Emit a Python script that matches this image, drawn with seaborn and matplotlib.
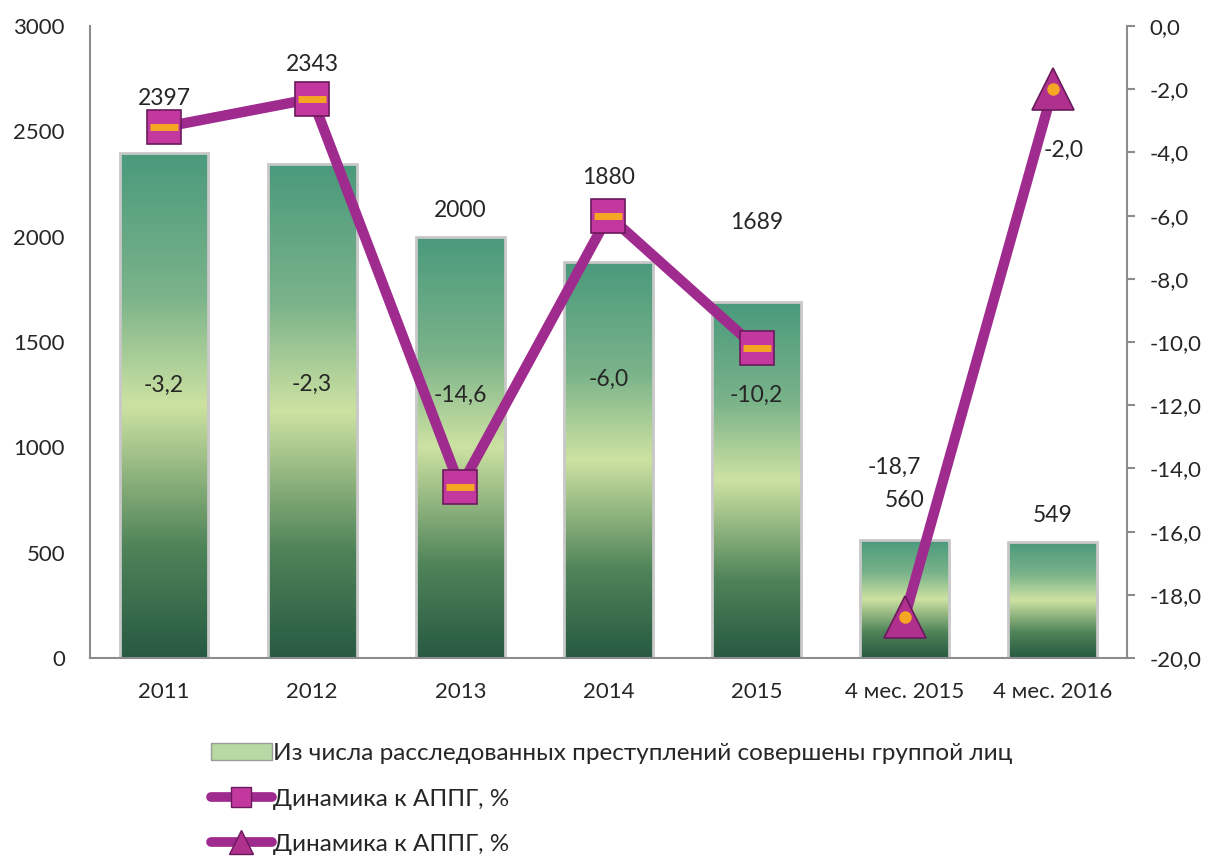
import numpy as np
import pandas as pd
import matplotlib
matplotlib.use("Agg")
import matplotlib.pyplot as plt
import seaborn as sns
from matplotlib.colors import LinearSegmentedColormap
from matplotlib.lines import Line2D
from matplotlib.patches import Patch
from matplotlib.ticker import FuncFormatter

# данные
periods = ["2011", "2012", "2013", "2014", "2015", "4 мес. 2015", "4 мес. 2016"]
group_crimes = [2397, 2343, 2000, 1880, 1689, 560, 549]
dyn_years = [-3.2, -2.3, -14.6, -6.0, -10.2, np.nan, np.nan]
dyn_months = [np.nan, np.nan, np.nan, np.nan, np.nan, -18.7, -2.0]

bar_name = "Из числа расследованных преступлений совершены группой лиц"
line_name = "Динамика к АППГ, %"

# смещения подписей (в пикселях)
bar_lbl_dy = [55, 100, 26, 84, 80, 40, 27]
line_lbl_off = [(0, -258), (0, -286), (0, 92), (0, -164), (0, -47), (-10, 150), (11, -61)]

sns.set_style("white")
plt.rcParams['font.family'] = ['Lato', 'DejaVu Sans']
plt.rcParams['font.size'] = 16

df = pd.DataFrame({"period": periods, "count": group_crimes,
                   "dyn_y": dyn_years, "dyn_m": dyn_months})
df["pos"] = np.arange(len(df))

fig = plt.figure(figsize=(12.11, 8.58), dpi=100)
ax = fig.add_axes([0.0743, 0.2331, 0.8563, 0.7366])

sns.barplot(data=df, x="period", y="count", ax=ax, width=0.6,
            color="#7ab38a", saturation=1)

# градиентная заливка столбцов
grad = LinearSegmentedColormap.from_list(
    "g", [(0, "#275a42"), (0.22, "#4f8459"), (0.5, "#cde2a2"),
          (0.72, "#7ab38a"), (1, "#4a9a7c")])
img = np.linspace(0, 1, 256).reshape(-1, 1)
for p in ax.patches:
    x0, w, h = p.get_x(), p.get_width(), p.get_height()
    im = ax.imshow(img, cmap=grad, origin="lower", aspect="auto",
                   extent=[x0, x0 + w, 0, h], zorder=1)
    im.set_clip_path(p)
    p.set_facecolor("none")
    p.set_edgecolor("#c8c8c8")
    p.set_linewidth(2)
    p.set_zorder(2)

ax.set_xlim(-0.5, len(periods) - 0.5)
ax.set_ylim(0, 3000)
ax.set_yticks(range(0, 3001, 500))
ax.set_xlabel("")
ax.set_ylabel("")
ax.tick_params(axis="y", length=0, pad=18, labelsize=16)
ax.tick_params(axis="x", length=0, pad=17, labelsize=16)
for s in ["top", "right"]:
    ax.spines[s].set_visible(False)
for s in ["left", "bottom"]:
    ax.spines[s].set_color("#8c8c8c")
    ax.spines[s].set_linewidth(1.5)

for i, v in enumerate(group_crimes):
    ax.annotate(str(v), (i, v), xytext=(0, bar_lbl_dy[i]),
                textcoords="offset pixels", ha="center", va="center",
                fontsize=16.5)

# правая ось
ax2 = ax.twinx()
purple = "#a02b8e"
sns.lineplot(data=df, x="pos", y="dyn_y", ax=ax2, color=purple, lw=7.5,
             marker="s", markersize=24, markerfacecolor="#c2389f",
             markeredgecolor="#6a1a5c", markeredgewidth=1.2)
sns.lineplot(data=df, x="pos", y="dyn_m", ax=ax2, color=purple, lw=7.5,
             marker="^", markersize=30, markerfacecolor="#b0308e",
             markeredgecolor="#6a1a5c", markeredgewidth=1.2)
# оранжевая полоса на маркерах
ax2.plot(df["pos"], df["dyn_y"], ls="none", marker="_", markersize=20,
         markeredgewidth=5, color="#f5a623")
ax2.plot(df["pos"], df["dyn_m"], ls="none", marker="o", markersize=9,
         markeredgewidth=0, color="#f5a623")

ax2.set_ylim(-20, 0)
ax2.set_yticks(np.arange(-20, 0.1, 2))
ax2.yaxis.set_major_formatter(
    FuncFormatter(lambda v, _: f"{abs(v):.1f}".replace(".", ",") if abs(v) < 1e-9
                  else f"{v:.1f}".replace(".", ",")))
ax2.set_ylabel("")
ax2.set_xlabel("")
ax2.tick_params(axis="y", direction="out", length=6, width=1.5,
                color="#8c8c8c", pad=10, labelsize=16)
for s in ["top", "left", "bottom"]:
    ax2.spines[s].set_visible(False)
ax2.spines["right"].set_color("#8c8c8c")
ax2.spines["right"].set_linewidth(1.5)
ax2.set_xlim(-0.5, len(periods) - 0.5)

for i in range(len(periods)):
    v = dyn_years[i] if not np.isnan(dyn_years[i]) else dyn_months[i]
    dx, dy = line_lbl_off[i]
    ax2.annotate(f"{v:.1f}".replace(".", ","), (i, v), xytext=(dx, dy),
                 textcoords="offset pixels", ha="center", va="center",
                 fontsize=16.5)

handles = [
    Patch(facecolor="#b8d9a4", edgecolor="#9a9a9a"),
    Line2D([], [], color=purple, lw=7, marker="s", markersize=15,
           markerfacecolor="#c2389f", markeredgecolor="#6a1a5c"),
    Line2D([], [], color=purple, lw=7, marker="^", markersize=17,
           markerfacecolor="#b0308e", markeredgecolor="#6a1a5c"),
]
fig.legend(handles, [bar_name, line_name, line_name], loc="upper left",
           bbox_to_anchor=(0.164, 0.148), frameon=False, fontsize=17.5,
           labelspacing=1.0, handlelength=2.5, handletextpad=0.08,
           borderpad=0)

fig.savefig("out.png", dpi=100)
